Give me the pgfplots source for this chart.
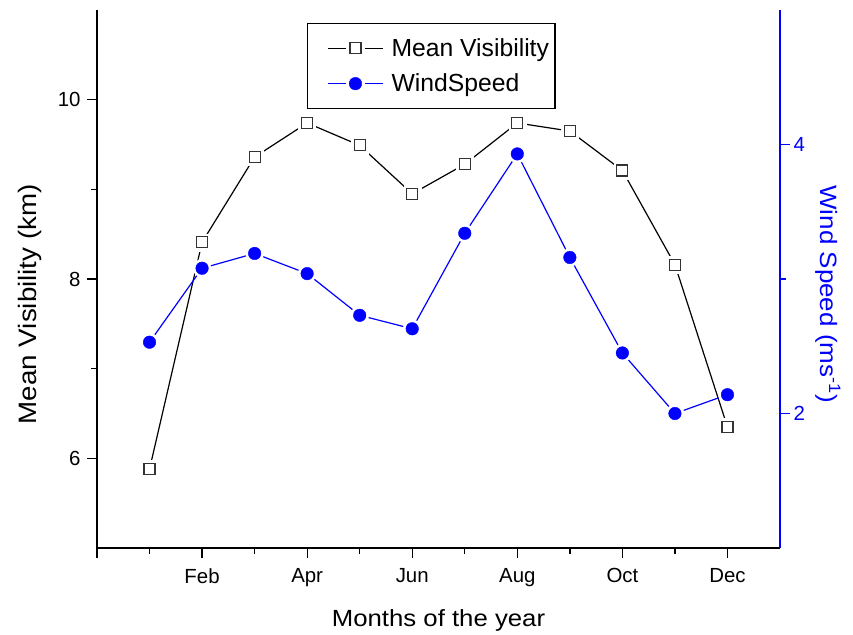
\documentclass[border=0pt]{standalone}
\usepackage{fontspec}
\setmainfont{Liberation Sans}
\newfontfamily\labelfont[FakeStretch=1.1]{Liberation Sans}
\usepackage{pgfplots}
\usepackage{pgfplotstable}
\pgfplotsset{compat=1.18}

% Monthly means: visibility (km) and wind speed (m/s)
\pgfplotstableread{
month vis  wind
1     5.88 2.53
2     8.41 3.08
3     9.36 3.19
4     9.74 3.04
5     9.49 2.73
6     8.95 2.63
7     9.28 3.34
8     9.74 3.93
9     9.65 3.16
10    9.21 2.45
11    8.16 2.00
12    6.35 2.14
}\monthly

\pgfplotsset{
  common/.style={
    scale only axis, width=683bp, height=538bp,
    xmin=0, xmax=13,
    tick align=outside,
    major tick length=10bp, minor tick length=6bp,
    every tick/.style={line width=1.3bp},
    /pgf/number format/assume math mode=true,
    tick label style={font=\fontsize{20.5}{24}\selectfont},
    clip=false,
  },
  visline/.style={black, line width=1.2bp, mark=square*,
    mark size=5.5bp, mark options={fill=white, draw=black!80, line width=1.2bp}},
  windline/.style={blue, line width=1.2bp, mark=*,
    mark size=6.3bp, mark options={fill=blue, draw=blue, line width=0.4bp}},
}

\begin{document}
\begin{tikzpicture}
\useasboundingbox (-97bp,-87bp) rectangle (756bp,548bp);

% left axis: mean visibility
\begin{axis}[common,
  ymin=5, ymax=11,
  axis x line*=bottom, axis y line*=left,
  axis line style={-, line width=1.5bp},
  xtick={0,2,...,12}, xticklabels={,Feb,Apr,Jun,Aug,Oct,Dec},
  minor xtick={1,3,...,11},
  xticklabel style={yshift=-7bp},
  yticklabel style={xshift=-3bp},
  ytick={6,8,10}, minor ytick={7,9},
  xlabel={Months of the year},
  ylabel={Mean Visibility (km)},
  xlabel style={font=\labelfont\fontsize{23.5}{28}\selectfont,
    at={(axis description cs:0.5,-0.134)}, anchor=center},
  ylabel style={font=\labelfont\fontsize{25.3}{30}\selectfont,
    at={(axis description cs:-0.098,0.453)}, anchor=center},
]
\addplot[black, line width=1.2bp, mark=none] table[x=month, y=vis]{\monthly};
\addplot[only marks, mark=square*, mark size=8.5bp,
  mark options={fill=white, draw=white}] table[x=month, y=vis]{\monthly};
\addplot[visline, only marks] table[x=month, y=vis]{\monthly};
\end{axis}

% right axis: wind speed
\begin{axis}[common,
  ymin=1, ymax=5,
  axis x line=none, axis y line*=right,
  y axis line style={-, blue, line width=1.5bp},
  ytick={2,4}, minor ytick={3},
  ytick style={blue}, yticklabel style={blue},
  ylabel={Wind Speed (ms\textsuperscript{-1})},
  ylabel style={blue, rotate=180, font=\labelfont\fontsize{23.7}{28}\selectfont,
    at={(axis description cs:1.07,0.472)}, anchor=center},
  legend image code/.code={
    \path (0bp,0bp);
    \draw[#1, mark=none] (16bp,0bp) -- (34bp,0bp);
    \draw[#1, mark=none] (53bp,0bp) -- (71bp,0bp);
    \draw[#1] plot coordinates {(43.5bp,0bp)};
  },
  legend style={at={(axis description cs:0.307,0.976)}, anchor=north west,
    draw=black, line width=1.3bp, font=\fontsize{24.8}{29}\selectfont,
    inner xsep=4bp, inner ysep=13bp, row sep=12bp, column sep=6bp},
  legend cell align=left,
]
\addlegendimage{visline}
\addlegendentry{Mean Visibility}
\addplot[blue, line width=1.2bp, mark=none, forget plot] table[x=month, y=wind]{\monthly};
\addplot[only marks, mark=*, mark size=9bp, forget plot,
  mark options={fill=white, draw=white}] table[x=month, y=wind]{\monthly};
\addplot[windline, only marks] table[x=month, y=wind]{\monthly};
\addlegendentry{WindSpeed}
\end{axis}
\end{tikzpicture}
\end{document}
